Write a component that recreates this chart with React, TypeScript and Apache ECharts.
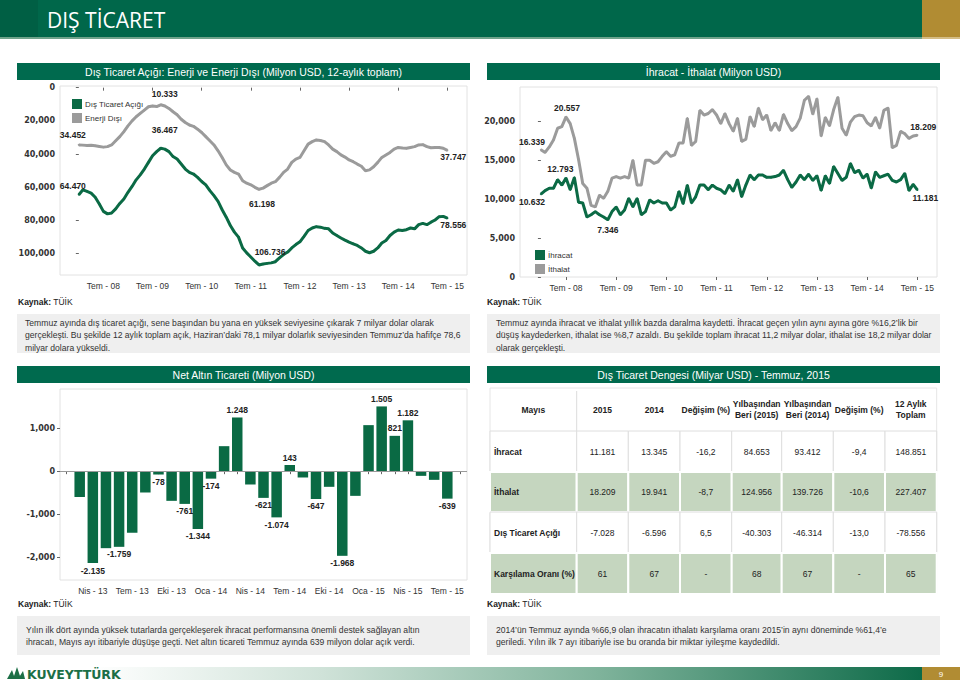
import React, { useEffect, useRef } from 'react';
import * as echarts from 'echarts';

// ---------------- DATA ----------------
// Monthly, Jan 2008 .. Jul 2015 (91 months), 12-month totals, million USD
const tradeDeficit12m = [
  64470, 61500, 62500, 63500, 66000, 70000, 74500, 76000, 75500, 73000,
  69700, 67000, 63000, 59500, 55500, 52500, 49000, 45000, 41000, 38500,
  36467, 37000, 38500, 41500, 43000, 46000, 49000, 51000, 52000, 54000,
  56500, 58500, 62000, 65000, 68500, 73500, 78000, 83000, 87000, 90000,
  96500, 99500, 102000, 104500, 106736, 106200, 105800, 105500, 104800, 102500,
  100500, 99000, 96500, 94500, 92800, 89500, 86000, 84500, 83700, 84000,
  84700, 85000, 87500, 89000, 90500, 91800, 93000, 94000, 95000, 96500,
  98500, 99400, 98500, 96500, 93500, 92000, 89000, 87000, 85700, 86000,
  85500, 84500, 85000, 82500, 81700, 82500, 81000, 79700, 77700, 77500,
  78556,
];
const nonEnergy12m = [
  34452, 34600, 34800, 34700, 35000, 35400, 35800, 35500, 34500, 32000,
  29500, 26500, 23000, 20000, 17500, 15500, 13500, 11500, 11000, 11400,
  10333, 11000, 12500, 14500, 16300, 19000, 21000, 22500, 23300, 25000,
  27000, 29500, 32000, 34500, 38000, 42000, 46500, 49600, 51000, 52000,
  56000, 57500, 58500, 60000, 61198, 60500, 59000, 57500, 56600, 54000,
  51000, 49000, 45000, 43000, 42000, 38000, 34000, 32500, 31500, 31800,
  32500, 34500, 37000, 38500, 40500, 41800, 43500, 44600, 46000, 47300,
  50000, 49500, 47600, 45000, 42000, 40500, 39000, 37000, 36000, 36300,
  36500, 36000, 35500, 34500, 34300, 35500, 36200, 36000, 36000, 36500,
  37747,
];
// Monthly exports / imports, Jan 2008 .. Jul 2015, million USD
const exportsMonthly = [
  10632, 11100, 11400, 11400, 12500, 11800, 12700, 11200, 12793, 9600,
  9500, 7700, 8000, 8400, 8000, 7700, 7346, 8400, 9000, 8000,
  8600, 10100, 9000, 10100, 8000, 8400, 9900, 9500, 9800, 9500,
  9500, 8600, 9000, 11000, 9400, 11800, 9500, 10300, 11800, 11800,
  11200, 11800, 11400, 11200, 10700, 11800, 11000, 12500, 10300, 11800,
  13100, 12500, 13100, 13100, 12800, 12800, 12900, 13100, 13700, 12500,
  11500, 12200, 13100, 12500, 13200, 12400, 13000, 11100, 13000, 12000,
  14200, 13300, 12400, 12800, 14600, 13400, 13700, 12700, 13200, 11400,
  13500, 12800, 13000, 13200, 12400, 12200, 12500, 13300, 11100, 11900,
  11181,
];
const importsMonthly = [
  16339, 16000, 16700, 17600, 19100, 19300, 20557, 19700, 17800, 15100,
  12000, 11400, 9200, 9000, 10500, 10100, 11000, 12700, 12900, 12700,
  12900, 12700, 15000, 11800, 11800, 15000, 15000, 14600, 14800, 15500,
  16100, 15500, 15700, 17200, 17200, 20400, 16900, 17400, 21400, 20800,
  21000, 21500, 20800, 19700, 21000, 19700, 18700, 20400, 17400, 17700,
  20600, 19300, 21700, 20200, 20800, 18800, 19800, 18800, 20900, 19700,
  18800, 19300, 20400, 22700, 23200, 20900, 22900, 18100, 20500, 19400,
  21500, 23100, 19100, 18200, 19900, 20600, 20800, 20700, 19800, 19400,
  20500, 19100, 21400, 21700, 16600, 16900, 18700, 18400, 17800, 18100,
  18209,
];
const monthNames = ['Oca', 'Şub', 'Mar', 'Nis', 'May', 'Haz', 'Tem', 'Ağu', 'Eyl', 'Eki', 'Kas', 'Ara'];
const julyTicks = [6, 18, 30, 42, 54, 66, 78, 90];
const lineStartYear = 2008;
const chart1YTicks = [0, 20000, 40000, 60000, 80000, 100000];
const chart2YTicks = [0, 5000, 10000, 15000, 20000];
// Net gold trade, Feb 2013 .. Aug 2015 (first/last months empty)
const goldStartMonth = 1; // Şub
const goldStartYear = 13;
const goldNet = [
  null, -600, -2135, -1790, -1759, -1434, -496, -78, -690, -761,
  -1344, -174, 581, 1248, -310, -621, -1074, 143, -147, -647,
  -364, -1968, -574, 1070, 1505, 821, 1182, -109, -202, -639, null,
];
const goldLabeled = [2, 4, 7, 9, 10, 11, 13, 15, 16, 17, 19, 21, 24, 25, 26, 29];
const chart3YTicks = [-2000, -1000, 0, 1000];

const tableHeader = ['Mayıs', '2015', '2014', 'Değişim (%)', 'Yılbaşından\nBeri (2015)', 'Yılbaşından\nBeri (2014)', 'Değişim (%)', '12 Aylık\nToplam'];
const tableRowNames = ['İhracat', 'İthalat', 'Dış Ticaret Açığı', 'Karşılama Oranı (%)'];
const tableValues = [
  ['11.181', '13.345', '-16,2', '84.653', '93.412', '-9,4', '148.851'],
  ['18.209', '19.941', '-8,7', '124.956', '139.726', '-10,6', '227.407'],
  ['-7.028', '-6.596', '6,5', '-40.303', '-46.314', '-13,0', '-78.556'],
  ['61', '67', '-', '68', '67', '-', '65'],
];

const text1 = [
  'Temmuz ayında dış ticaret açığı, sene başından bu yana en yüksek seviyesine çıkarak 7 milyar dolar olarak',
  'gerçekleşti. Bu şekilde 12 aylık toplam açık, Haziran’daki 78,1 milyar dolarlık seviyesinden Temmuz’da hafifçe 78,6',
  'milyar dolara yükseldi.',
];
const text2 = [
  'Temmuz ayında ihracat ve ithalat yıllık bazda daralma kaydetti. İhracat geçen yılın aynı ayına göre %16,2’lik bir',
  'düşüş kaydederken, ithalat ise %8,7 azaldı. Bu şekilde toplam ihracat 11,2 milyar dolar, ithalat ise 18,2 milyar dolar',
  'olarak gerçekleşti.',
];
const text3 = [
  'Yılın ilk dört ayında yüksek tutarlarda gerçekleşerek ihracat performansına önemli destek sağlayan altın',
  'ihracatı, Mayıs ayı itibariyle düşüşe geçti. Net altın ticareti Temmuz ayında 639 milyon dolar açık verdi.',
];
const text4 = [
  '2014’ün Temmuz ayında %66,9 olan ihracatın ithalatı karşılama oranı 2015’in aynı döneminde %61,4’e',
  'geriledi. Yılın ilk 7 ayı itibariyle ise bu oranda bir miktar iyileşme kaydedildi.',
];

// ---------------- STYLE ----------------
const FONT = "'Liberation Sans', Arial, sans-serif";
const FONT_V = "'DejaVu Sans', Verdana, sans-serif";
const GREEN = '#0b6a45';
const GRAY = '#9b9b9b';
const BAR_GREEN = '#0a6a44';
const TITLE_GREEN = '#006a4e';

function fmtDot(v: number): string {
  const s = Math.abs(Math.round(v)).toString().replace(/\B(?=(\d{3})+(?!\d))/g, '.');
  return (v < 0 ? '-' : '') + s;
}
function fmtComma(v: number): string {
  const s = Math.abs(Math.round(v)).toString().replace(/\B(?=(\d{3})+(?!\d))/g, ',');
  return (v < 0 ? '-' : '') + s;
}
function julyLabel(v: number): string {
  const y = lineStartYear + Math.floor(v / 12);
  return 'Tem - ' + String(y % 100).padStart(2, '0');
}

// label placements (style only)
const labelPlace1G: Record<number, any> = {
  0: { position: 'top', offset: [-6, 2] },
  20: { position: 'top', offset: [4, -8] },
  44: { position: 'top', offset: [11, -2] },
  90: { position: 'bottom', offset: [6, -4] },
};
const labelPlace1N: Record<number, any> = {
  0: { position: 'top', offset: [-6, 1] },
  20: { position: 'top', offset: [4, 0] },
  44: { position: 'bottom', offset: [3, 4] },
  90: { position: 'bottom', offset: [6, -4] },
};
const labelPlace2E: Record<number, any> = {
  0: { position: 'bottom', offset: [-9, -3] },
  8: { position: 'top', offset: [-14, 2] },
  16: { position: 'bottom', offset: [0, 0] },
  90: { position: 'bottom', offset: [8, -2] },
};
const labelPlace2I: Record<number, any> = {
  0: { position: 'top', offset: [-9, 3] },
  6: { position: 'top', offset: [1, 2] },
  90: { position: 'top', offset: [6, 2] },
};

function lineData(values: number[], places: Record<number, any>) {
  return values.map((v, i) =>
    places[i] ? { value: [i, v], label: { show: true, ...places[i] } } : { value: [i, v] }
  );
}

const dataLabelStyle = {
  show: false,
  fontSize: 8.5,
  fontWeight: 'bold',
  color: '#222',
  fontFamily: FONT,
  formatter: (p: any) => fmtDot(Array.isArray(p.value) ? p.value[1] : p.value),
};

function buildGraphic(): any[] {
  const g: any[] = [];
  // header
  g.push({ type: 'rect', shape: { x: 0, y: 0, width: 960, height: 38 }, style: { fill: '#00674a' } });
  g.push({ type: 'rect', shape: { x: 0, y: 0, width: 38, height: 38 }, style: { fill: '#005f44' } });
  g.push({ type: 'rect', shape: { x: 922, y: 0, width: 38, height: 38 }, style: { fill: '#b18c33' } });
  g.push({ type: 'rect', shape: { x: 0, y: 37, width: 922, height: 2 }, style: { fill: '#6fa38b' } });
  g.push({ type: 'rect', shape: { x: 922, y: 37, width: 38, height: 2 }, style: { fill: '#d4bd86' } });
  g.push({ type: 'text', x: 47, y: 20, style: { text: 'DIŞ TİCARET', fill: '#ffffff', fontSize: 21, fontFamily: "'Open Sans', sans-serif", verticalAlign: 'middle' } });

  // title bars
  const bars = [
    { x: 17, y: 63, w: 453, t: 'Dış Ticaret Açığı: Enerji ve Enerji Dışı (Milyon USD, 12-aylık toplam)' },
    { x: 487, y: 63, w: 453, t: 'İhracat - İthalat (Milyon USD)' },
    { x: 17, y: 366, w: 453, t: 'Net Altın Ticareti (Milyon USD)' },
    { x: 487, y: 366, w: 453, t: 'Dış Ticaret Dengesi (Milyar USD) - Temmuz, 2015' },
  ];
  bars.forEach((b) => {
    g.push({ type: 'rect', shape: { x: b.x, y: b.y, width: b.w, height: 17 }, style: { fill: TITLE_GREEN } });
    g.push({ type: 'text', x: b.x + b.w / 2, y: b.y + 9, style: { text: b.t, fill: '#fff', fontSize: 10.5, fontFamily: FONT, align: 'center', verticalAlign: 'middle' } });
  });

  // source notes
  [[18, 302], [487, 302], [18, 604], [487, 604]].forEach(([x, y]) => {
    g.push({ type: 'text', x, y, style: { text: '{b|Kaynak:} TÜİK', fill: '#222', fontSize: 8.5, fontFamily: FONT, verticalAlign: 'middle', rich: { b: { fontWeight: 'bold', fontSize: 8.5, fontFamily: FONT, fill: '#222' } } } });
  });

  // text boxes
  const boxes = [
    { x: 17, y: 314, w: 453, h: 39, lines: text1, tx: 25, ty: 323 },
    { x: 487, y: 314, w: 453, h: 39, lines: text2, tx: 496, ty: 323 },
    { x: 17, y: 616, w: 453, h: 39, lines: text3, tx: 26, ty: 630 },
    { x: 487, y: 616, w: 453, h: 39, lines: text4, tx: 496, ty: 630 },
  ];
  boxes.forEach((b) => {
    g.push({ type: 'rect', shape: { x: b.x, y: b.y, width: b.w, height: b.h }, style: { fill: '#efefef' } });
    b.lines.forEach((ln, i) => {
      g.push({ type: 'text', x: b.tx, y: b.ty + i * 12.3, style: { text: ln, fill: '#333', fontSize: 8.6, fontFamily: FONT, verticalAlign: 'middle' } });
    });
  });

  // table
  const colX = [490, 576.7, 628.3, 680, 731.7, 781.7, 833.3, 885, 936.7];
  const rowY = [388, 431, 472, 512, 553, 594];
  g.push({ type: 'rect', shape: { x: colX[0], y: rowY[0], width: colX[8] - colX[0], height: rowY[5] - rowY[0] }, style: { fill: '#fff', stroke: '#e6e6e6', lineWidth: 1 } });
  g.push({ type: 'line', shape: { x1: colX[1], y1: rowY[0] + 3, x2: colX[1], y2: rowY[1] }, style: { stroke: '#dcdcdc', lineWidth: 1 } });
  tableHeader.forEach((h, c) => {
    g.push({ type: 'text', x: (colX[c] + colX[c + 1]) / 2, y: (rowY[0] + rowY[1]) / 2, style: { text: h, fill: '#222', fontSize: 8.5, fontWeight: 'bold', fontFamily: FONT, align: 'center', verticalAlign: 'middle', lineHeight: 10.5 } });
  });
  tableRowNames.forEach((name, r) => {
    const y0 = rowY[r + 1];
    const y1 = rowY[r + 2];
    const green = r % 2 === 1;
    for (let c = 0; c < 8; c++) {
      g.push({ type: 'rect', shape: { x: colX[c], y: y0, width: colX[c + 1] - colX[c], height: y1 - y0 }, style: { fill: green ? '#c5d6bf' : '#ffffff', stroke: green ? '#ffffff' : '#dedede', lineWidth: green ? 2 : 1 } });
    }
    g.push({ type: 'text', x: colX[0] + 4, y: (y0 + y1) / 2, style: { text: name, fill: '#222', fontSize: 8.5, fontWeight: 'bold', fontFamily: FONT, verticalAlign: 'middle' } });
    tableValues[r].forEach((v, c) => {
      g.push({ type: 'text', x: (colX[c + 1] + colX[c + 2]) / 2, y: (y0 + y1) / 2, style: { text: v, fill: '#222', fontSize: 8.5, fontFamily: FONT, align: 'center', verticalAlign: 'middle' } });
    });
  });

  // footer
  g.push({
    type: 'rect', shape: { x: 0, y: 667, width: 922, height: 13 },
    style: {
      fill: new echarts.graphic.LinearGradient(0, 0, 1, 0, [
        { offset: 0, color: '#ffffff' },
        { offset: 0.1, color: '#ffffff' },
        { offset: 0.35, color: '#cfe2d8' },
        { offset: 0.65, color: '#7fb39b' },
        { offset: 1, color: '#0d6a48' },
      ]),
    },
  });
  g.push({ type: 'rect', shape: { x: 922, y: 667, width: 38, height: 13 }, style: { fill: '#b18c33' } });
  g.push({ type: 'text', x: 941, y: 674, style: { text: '9', fill: '#fff', fontSize: 8, fontFamily: FONT, align: 'center', verticalAlign: 'middle' } });
  // logo emblem
  g.push({ type: 'polygon', shape: { points: [[7, 679], [12, 670], [15, 679]] }, style: { fill: '#1c6f46' } });
  g.push({ type: 'polygon', shape: { points: [[13, 679], [17, 667], [21, 679]] }, style: { fill: '#1c6f46' } });
  g.push({ type: 'polygon', shape: { points: [[18, 679], [23, 671], [25, 679]] }, style: { fill: '#1c6f46' } });
  g.push({ type: 'text', x: 27, y: 674, style: { text: 'KUVEYTTÜRK', fill: '#1c6f46', fontSize: 12.5, fontWeight: 'bold', fontFamily: "'DejaVu Sans', sans-serif", verticalAlign: 'middle' } });
  return g;
}

const yLabelStyle = { fontSize: 8, fontWeight: 'bold', color: '#333', fontFamily: FONT_V, margin: 5 };
const xLabelStyle = { fontSize: 8.5, color: '#333', fontFamily: FONT, margin: 6 };
const tickStyle = { show: true, length: 3, lineStyle: { color: '#666', width: 1 } };
const gridStyle = { show: true, borderColor: '#e2e2e2', borderWidth: 1, backgroundColor: '#ffffff' };
const legendCommon = { orient: 'vertical', icon: 'rect', itemWidth: 10, itemHeight: 10, itemGap: 4, selectedMode: false, textStyle: { fontSize: 8, color: '#333', fontFamily: FONT, padding: [0, 0, 0, -2] } };

function buildOption(): any {
  const goldCats = goldNet.map((_, i) => {
    const m = goldStartMonth + i;
    return monthNames[m % 12] + ' - ' + String(goldStartYear + Math.floor(m / 12)).padStart(2, '0');
  });
  const goldData = goldNet.map((v, i) =>
    v === null ? null : goldLabeled.includes(i)
      ? { value: v, label: { show: true, position: v < 0 ? 'bottom' : 'top' } }
      : { value: v }
  );
  return {
    animation: false,
    textStyle: { fontFamily: FONT },
    grid: [
      { left: 60, top: 86, width: 407, height: 189, ...gridStyle },
      { left: 520, top: 87, width: 417, height: 190, ...gridStyle },
      { left: 60, top: 389, width: 407, height: 191, ...gridStyle },
    ],
    legend: [
      { ...legendCommon, left: 67, top: 94, data: ['Dış Ticaret Açığı', 'Enerji Dışı'] },
      { ...legendCommon, left: 530, top: 245, data: ['İhracat', 'İthalat'] },
    ],
    xAxis: [
      {
        gridIndex: 0, type: 'value', min: -4.6, max: 94.8,
        axisLine: { show: false }, splitLine: { show: false },
        axisTick: { ...tickStyle, customValues: julyTicks },
        axisLabel: { ...xLabelStyle, customValues: julyTicks, formatter: julyLabel },
      },
      {
        gridIndex: 1, type: 'value', min: -5, max: 94.7,
        axisLine: { show: false }, splitLine: { show: false },
        axisTick: { ...tickStyle, customValues: julyTicks },
        axisLabel: { ...xLabelStyle, customValues: julyTicks, formatter: julyLabel },
      },
      {
        gridIndex: 2, type: 'category', data: goldCats,
        axisLine: { show: false }, splitLine: { show: false },
        axisTick: { ...tickStyle, alignWithLabel: true, interval: 0 },
        axisLabel: { ...xLabelStyle, interval: (idx: number) => idx >= 2 && (idx - 2) % 3 === 0 },
      },
    ],
    yAxis: [
      {
        gridIndex: 0, type: 'value', inverse: true, min: -1000, max: 112800,
        axisLine: { show: false }, splitLine: { show: false },
        axisTick: { ...tickStyle, customValues: chart1YTicks },
        axisLabel: { ...yLabelStyle, customValues: chart1YTicks, formatter: fmtComma },
      },
      {
        gridIndex: 1, type: 'value', min: 0, max: 24400,
        axisLine: { show: false }, splitLine: { show: false },
        axisTick: { ...tickStyle, customValues: chart2YTicks },
        axisLabel: { ...yLabelStyle, customValues: chart2YTicks, formatter: fmtComma },
      },
      {
        gridIndex: 2, type: 'value', min: -2530, max: 1910,
        axisLine: { show: false }, splitLine: { show: false },
        axisTick: { ...tickStyle, customValues: chart3YTicks },
        axisLabel: { ...yLabelStyle, customValues: chart3YTicks, formatter: fmtComma },
      },
    ],
    series: [
      {
        name: 'Enerji Dışı', type: 'line', xAxisIndex: 0, yAxisIndex: 0,
        data: lineData(nonEnergy12m, labelPlace1N), symbol: 'circle', symbolSize: 2, showSymbol: true,
        itemStyle: { color: GRAY }, lineStyle: { color: GRAY, width: 3 }, label: dataLabelStyle, z: 3,
      },
      {
        name: 'Dış Ticaret Açığı', type: 'line', xAxisIndex: 0, yAxisIndex: 0,
        data: lineData(tradeDeficit12m, labelPlace1G), symbol: 'circle', symbolSize: 2, showSymbol: true,
        itemStyle: { color: GREEN }, lineStyle: { color: GREEN, width: 3 }, label: dataLabelStyle, z: 3,
      },
      {
        name: 'İthalat', type: 'line', xAxisIndex: 1, yAxisIndex: 1,
        data: lineData(importsMonthly, labelPlace2I), symbol: 'circle', symbolSize: 2, showSymbol: true,
        itemStyle: { color: GRAY }, lineStyle: { color: GRAY, width: 3 }, label: dataLabelStyle, z: 3,
      },
      {
        name: 'İhracat', type: 'line', xAxisIndex: 1, yAxisIndex: 1,
        data: lineData(exportsMonthly, labelPlace2E), symbol: 'circle', symbolSize: 2, showSymbol: true,
        itemStyle: { color: GREEN }, lineStyle: { color: GREEN, width: 3 }, label: dataLabelStyle, z: 3,
      },
      {
        name: 'Net Altın', type: 'bar', xAxisIndex: 2, yAxisIndex: 2,
        data: goldData, barWidth: '80%', itemStyle: { color: BAR_GREEN },
        label: { ...dataLabelStyle, distance: 3 },
        markLine: {
          silent: true, symbol: 'none', label: { show: false },
          lineStyle: { color: '#9a9a9a', type: 'solid', width: 1 },
          data: [{ yAxis: 0 }],
        },
      },
    ],
    graphic: { elements: buildGraphic() },
  };
}

export default function App() {
  const ref = useRef<HTMLDivElement>(null);
  useEffect(() => {
    if (!ref.current) return;
    const chart = echarts.init(ref.current, undefined, { renderer: 'svg', width: 960, height: 680 });
    chart.setOption(buildOption());
    return () => chart.dispose();
  }, []);
  return (
    <div
      ref={ref}
      style={{ position: 'absolute', left: 0, top: 0, width: 960, height: 680, background: '#ffffff' }}
    />
  );
}
